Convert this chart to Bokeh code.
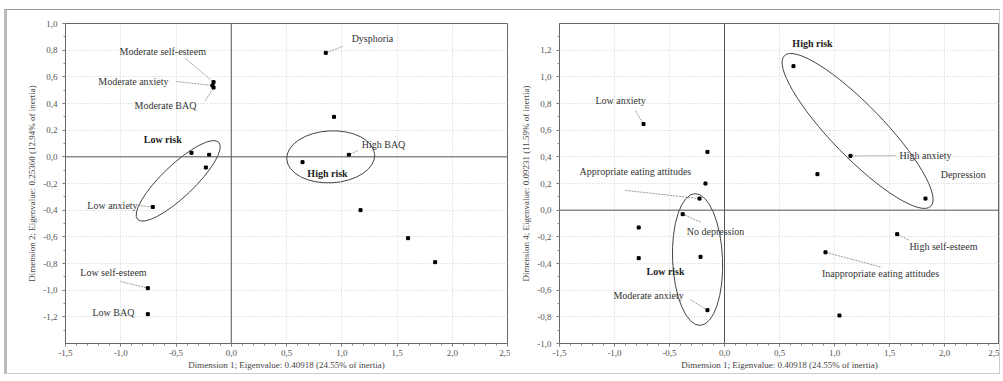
from bokeh.plotting import figure
from bokeh.layouts import row
from bokeh.models import Span, SingleIntervalTicker, CustomJSTickFormatter, ColumnDataSource
from bokeh.core.properties import value
from bokeh.embed import file_html
from bokeh.resources import INLINE

FONT = "Liberation Serif"
GLYPH_FONT = "'Liberation Serif'"

# ---------------- data: left panel (Dim 1 x Dim 2) ----------------
left_x = [-0.16, -0.17, -0.16, -0.36, -0.20, -0.23, -0.71, -0.755, -0.755,
          0.855, 0.93, 1.064, 0.645, 1.17, 1.60, 1.845]
left_y = [0.56, 0.535, 0.52, 0.03, 0.015, -0.08, -0.376, -0.985, -1.18,
          0.78, 0.30, 0.015, -0.04, -0.40, -0.61, -0.79]
left_labels = ["Moderate self-esteem", "Moderate anxiety", "Moderate BAQ",
               "Low anxiety", "Low self-esteem", "Low BAQ",
               "Dysphoria", "High BAQ"]
left_label_point = [0, 1, 2, 6, 7, 8, 9, 11]
left_group_labels = ["Low risk", "High risk"]

# ---------------- data: right panel (Dim 1 x Dim 4) ----------------
right_x = [-0.736, -0.155, -0.173, -0.227, -0.38, -0.78, -0.78, -0.218, -0.155,
           0.627, 1.145, 0.845, 1.827, 1.57, 0.918, 1.045]
right_y = [0.646, 0.437, 0.20, 0.087, -0.03, -0.13, -0.36, -0.35, -0.75,
           1.08, 0.407, 0.27, 0.087, -0.18, -0.316, -0.79]
right_labels = ["Low anxiety", "Appropriate eating attitudes", "No depression",
                "Moderate anxiety", "High anxiety", "Depression",
                "High self-esteem", "Inappropriate eating attitudes"]
right_label_point = [0, 3, 4, 8, 10, 12, 13, 14]
right_group_labels = ["Low risk", "High risk"]

left_xtitle = "Dimension 1; Eigenvalue: 0.40918 (24.55% of inertia)"
left_ytitle = "Dimension 2; Eigenvalue: 0.25360 (12.94% of inertia)"
right_xtitle = "Dimension 1; Eigenvalue: 0.40918 (24.55% of inertia)"
right_ytitle = "Dimension 4; Eigenvalue: 0.09231 (11.59% of inertia)"

# ---------------- layout / annotation placement ----------------
left_text_pos = [(-0.62, 0.79), (-0.885, 0.565), (-0.595, 0.385),
                 (-1.075, -0.365), (-1.066, -0.868), (-1.066, -1.17),
                 (1.278, 0.887), (1.378, 0.09)]
left_leader_start = [(-0.414, 0.737), (-0.495, 0.565), (-0.233, 0.422),
                     (-0.84, -0.365), (-1.0, -0.935), None,
                     (1.007, 0.827), (1.143, 0.047)]
left_group_pos = [(-0.62, 0.13), (0.871, -0.125)]
left_ellipses = [(-0.48, -0.18, 112, 32, 0.76), (0.90, 0.0, 88, 52, 0.05)]

right_text_pos = [(-0.945, 0.82), (-0.81, 0.29), (-0.082, -0.157),
                  (-0.69, -0.64), (1.827, 0.41), (2.17, 0.267),
                  (1.99, -0.27), (1.418, -0.478)]
right_leader_start = [(-0.809, 0.744), (-0.90, 0.148), (-0.218, -0.09),
                      (-0.309, -0.672), (1.555, 0.409), None,
                      (1.673, -0.224), (1.418, -0.426)]
right_group_pos = [(-0.536, -0.463), (0.80, 1.25)]
right_ellipses = [(-0.245, -0.37, 50, 132, 0.04), (1.21, 0.594, 210, 52, -0.80)]

fmt = CustomJSTickFormatter(code="return tick.toFixed(1).replace('.', ',');")


def make_panel(xs, ys, labels, lpoint, tpos, lstart, glabels, gpos, ells,
               xtitle, ytitle, yrange, width, fw, bl, br):
    p = figure(width=width, height=363, frame_width=fw, frame_height=320,
               x_range=(-1.5, 2.5), y_range=yrange,
               output_backend="svg", toolbar_location=None,
               min_border_left=bl, min_border_right=br,
               min_border_top=13, min_border_bottom=30)
    p.background_fill_color = "white"
    p.border_fill_color = "white"
    p.outline_line_color = "#666666"
    p.xaxis.ticker = SingleIntervalTicker(interval=0.5, num_minor_ticks=5)
    p.yaxis.ticker = SingleIntervalTicker(interval=0.2, num_minor_ticks=2)
    for ax in (p.xaxis, p.yaxis):
        ax.formatter = fmt
        ax.major_label_text_font = FONT
        ax.major_label_text_font_size = "9px"
        ax.major_label_text_color = "#555555"
        ax.axis_label_text_font = FONT
        ax.axis_label_text_font_size = "9px"
        ax.axis_label_text_font_style = "normal"
        ax.axis_label_text_color = "#444444"
        ax.axis_line_color = "#666666"
        ax.major_tick_line_color = "#666666"
        ax.minor_tick_line_color = "#888888"
        ax.major_tick_out = 3
        ax.major_tick_in = 0
        ax.minor_tick_out = 2
        ax.minor_tick_in = 0
    p.xaxis.axis_label = xtitle
    p.yaxis.axis_label = ytitle
    p.xaxis.major_label_standoff = 3
    p.xaxis.axis_label_standoff = 1
    p.yaxis.major_label_standoff = 5
    p.yaxis.axis_label_standoff = 3
    for g in (p.xgrid, p.ygrid):
        g.grid_line_color = "#cfcfcf"
        g.grid_line_dash = "1 2"
        g.grid_line_width = 1
    p.add_layout(Span(location=0, dimension="height", line_color="#555555", line_width=1))
    p.add_layout(Span(location=0, dimension="width", line_color="#555555", line_width=1))

    # leader lines
    x0, y0, x1, y1 = [], [], [], []
    for i, s in enumerate(lstart):
        if s is None:
            continue
        x0.append(s[0]); y0.append(s[1])
        x1.append(xs[lpoint[i]]); y1.append(ys[lpoint[i]])
    p.segment(x0=x0, y0=y0, x1=x1, y1=y1, line_color="#999999",
              line_width=1, line_dash="2 1")

    # ellipses
    p.ellipse(x=[e[0] for e in ells], y=[e[1] for e in ells],
              width=[e[2] for e in ells], height=[e[3] for e in ells],
              angle=[e[4] for e in ells], width_units="screen",
              height_units="screen", fill_color=None,
              line_color="#444444", line_width=1)

    p.scatter(x=xs, y=ys, marker="square", size=3, color="black")

    src = ColumnDataSource(dict(x=[t[0] for t in tpos], y=[t[1] for t in tpos], t=labels))
    p.text(x="x", y="y", text="t", source=src, text_font=value(GLYPH_FONT),
           text_font_size="10px", text_align="center", text_baseline="middle",
           text_color="#333333")
    gsrc = ColumnDataSource(dict(x=[t[0] for t in gpos], y=[t[1] for t in gpos], t=glabels))
    p.text(x="x", y="y", text="t", source=gsrc, text_font=value(GLYPH_FONT),
           text_font_size="10px", text_font_style="bold", text_align="center",
           text_baseline="middle", text_color="#222222")
    return p


p1 = make_panel(left_x, left_y, left_labels, left_label_point, left_text_pos,
                left_leader_start, left_group_labels, left_group_pos,
                left_ellipses, left_xtitle, left_ytitle, (-1.4, 1.0),
                503, 442, 58, 3)
p2 = make_panel(right_x, right_y, right_labels, right_label_point, right_text_pos,
                right_leader_start, right_group_labels, right_group_pos,
                right_ellipses, right_xtitle, right_ytitle, (-1.0, 1.4),
                489, 440, 49, 0)

layout = row(p1, p2, styles={"margin-top": "9px", "margin-left": "4px",
                             "border-top": "1px solid #999999",
                             "border-left": "3px solid #bbbbbb",
                             "border-right": "1px solid #cccccc",
                             "border-bottom": "1px solid #cccccc"})

open("out.html", "w").write(file_html(layout, INLINE))
